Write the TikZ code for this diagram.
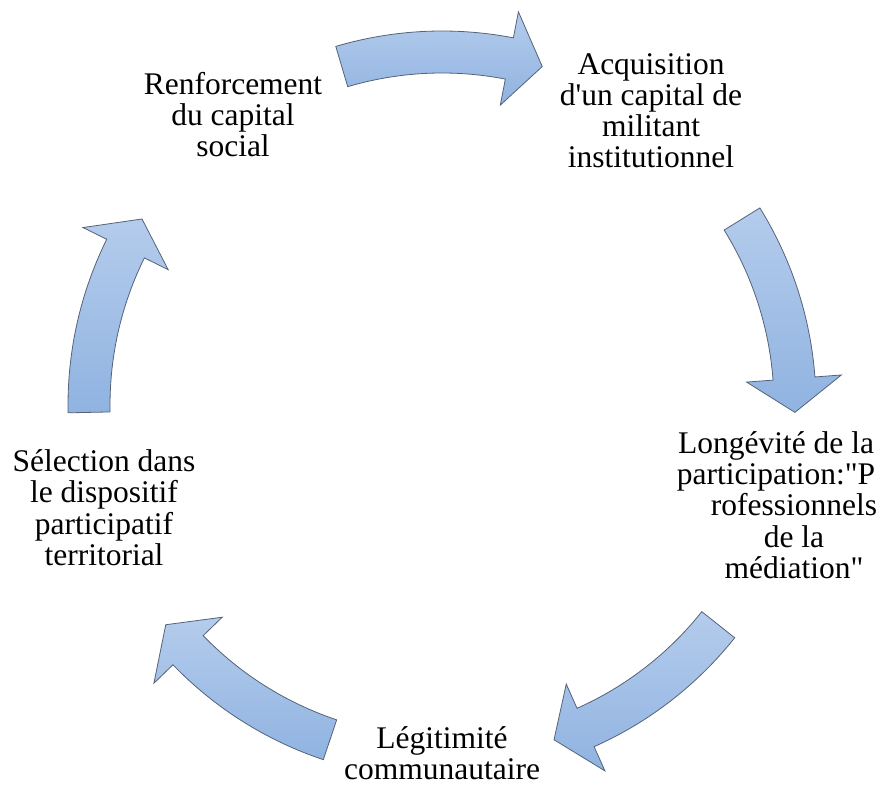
\documentclass[tikz,border=0pt]{standalone}
\usepackage{fontspec}
\setmainfont{Liberation Serif}
\definecolor{arrtop}{RGB}{180,204,236}
\definecolor{arrbot}{RGB}{144,179,225}
\definecolor{arrline}{RGB}{85,98,120}
\begin{document}
\begin{tikzpicture}[x=1pt,y=1pt]
\tikzset{
 lbl/.style={align=center, inner sep=0pt, anchor=base, font=\fontsize{31.5}{31}\selectfont, text=black},
 cyc/.style={draw=arrline, line width=0.8pt, top color=arrtop, bottom color=arrbot, line join=miter}
}
\useasboundingbox (0,0) rectangle (882,787);
\foreach \c in {90,15.3,-55,-125,164.7} {
 \path[cyc, shift={(442,382)}] ({\c+16.5}:374) arc[start angle={\c+16.5}, end angle={\c-11}, radius=374]
   -- ({\c-11}:400.5) -- ({\c-16.5}:353) -- ({\c-11}:305.5) -- ({\c-11}:332)
   arc[start angle={\c-11}, end angle={\c+16.5}, radius=332] -- cycle;
}
\node[lbl] (n1) at (233,630) {Renforcement\\du capital\\social};
\node[lbl] (n2) at (651,619) {Acquisition\\d\textquotesingle un capital de\\militant\\institutionnel};
\node[lbl] (n3) at (776,209) {Longévité de la\\participation:\textquotedbl P\\\hspace*{36pt}rofessionnels\\\hspace*{36pt}de la\\\hspace*{36pt}médiation\textquotedbl};
\node[lbl] (n4) at (104,222) {Sélection dans\\le dispositif\\participatif\\territorial};
\node[lbl] (n5) at (442,8) {Légitimité\\communautaire};
\end{tikzpicture}
\end{document}
